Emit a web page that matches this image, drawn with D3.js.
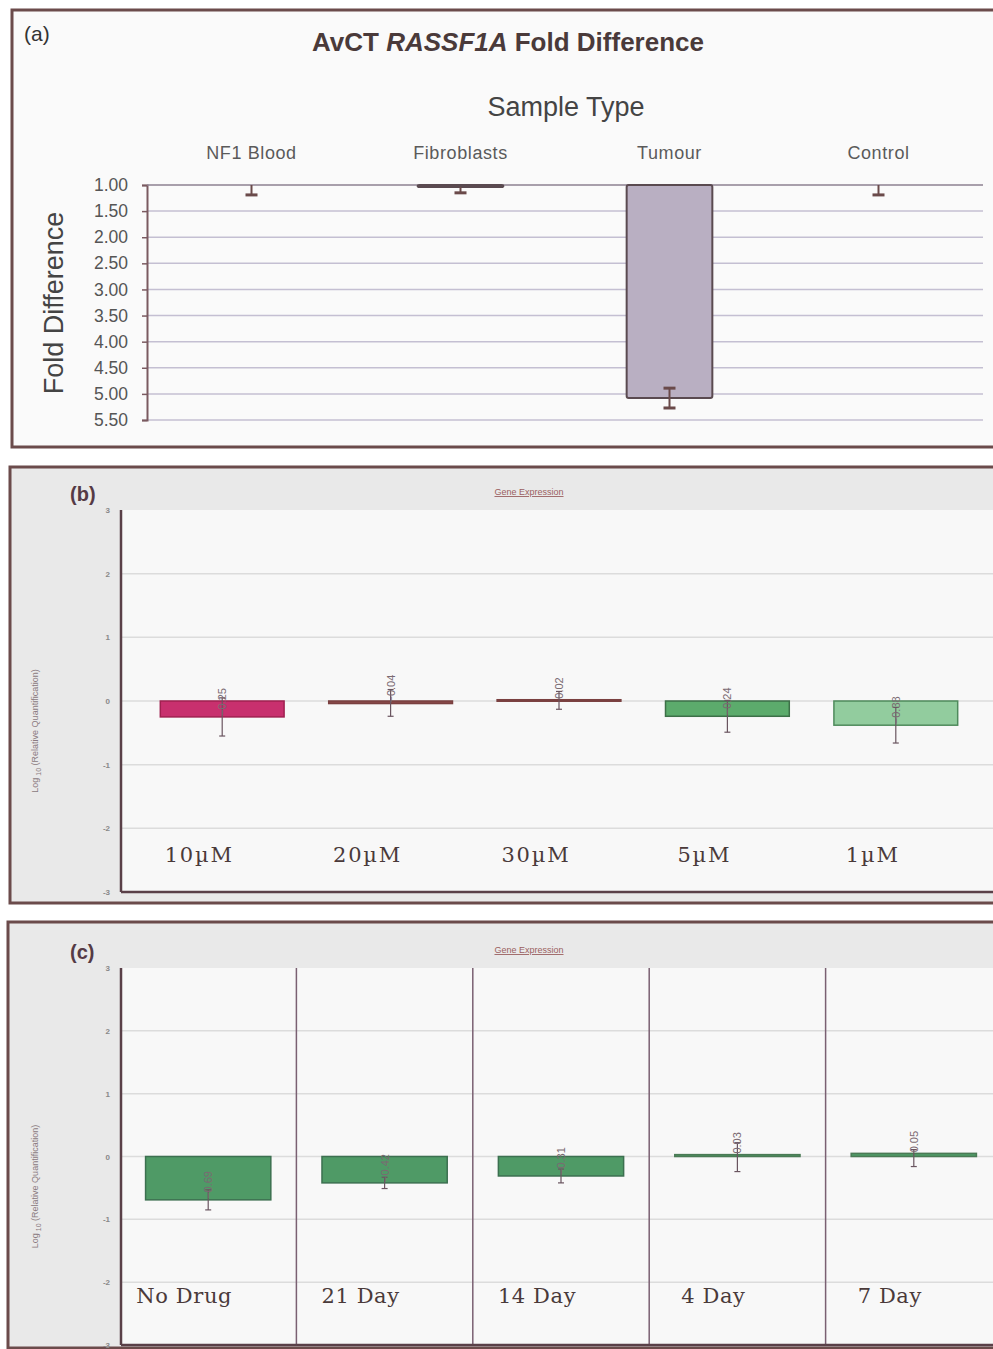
<!DOCTYPE html>
<html>
<head>
<meta charset="utf-8">
<script src="https://cdn.jsdelivr.net/npm/d3@7"></script>
<style>
  body { margin: 0; background: #ffffff; }
</style>
</head>
<body>
<div id="chart"></div>
<script>
// Panel (a) data
const sampleTypes = ["NF1 Blood", "Fibroblasts", "Tumour", "Control"];
const foldValues = [1.0, 1.04, 5.08, 1.0];
const foldErrLow = [1.0, 1.04, 4.89, 1.0];
const foldErrHigh = [1.19, 1.15, 5.27, 1.19];
const foldTicks = [1.0, 1.5, 2.0, 2.5, 3.0, 3.5, 4.0, 4.5, 5.0, 5.5];

// Panel (b) data
const doseLabels = ["10µM", "20µM", "30µM", "5µM", "1µM"];
const doseValues = [-0.25, -0.04, 0.02, -0.24, -0.38];
const doseErrLow = [-0.55, -0.24, -0.13, -0.49, -0.66];
const doseErrHigh = [0.05, 0.18, 0.15, 0.01, -0.1];
const doseColors = ["#c8306e", "#8a4a4a", "#8a4a4a", "#5cab6c", "#92cc9e"];

// Panel (c) data
const timeLabels = ["No Drug", "21 Day", "14 Day", "4 Day", "7 Day"];
const timeValues = [-0.69, -0.42, -0.31, 0.03, 0.05];
const timeErrLow = [-0.85, -0.51, -0.42, -0.24, -0.16];
const timeErrHigh = [-0.53, -0.33, -0.2, 0.22, 0.11];

const logTicks = [3, 2, 1, 0, -1, -2, -3];

document.addEventListener("DOMContentLoaded", function () {
  const width = 993;
  const height = 1349;
  const border = "#6b4b4b";

  const svg = d3
    .select("#chart")
    .append("svg")
    .attr("width", width)
    .attr("height", height)
    .style("font-family", "'Liberation Sans', Arial, sans-serif");

  // ---------- Panel (a) ----------
  const pa = svg.append("g");
  pa.append("rect")
    .attr("x", 12)
    .attr("y", 10)
    .attr("width", 1000)
    .attr("height", 437)
    .attr("fill", "#fafafa")
    .attr("stroke", border)
    .attr("stroke-width", 3);

  pa.append("text").attr("x", 24).attr("y", 41).attr("font-size", 21).attr("fill", "#333").text("(a)");

  const title = pa.append("text")
    .attr("x", 508)
    .attr("y", 51)
    .attr("text-anchor", "middle")
    .attr("font-size", 26)
    .attr("font-weight", "bold")
    .attr("fill", "#4a3a3a");
  title.append("tspan").text("AvCT ");
  title.append("tspan").attr("font-style", "italic").text("RASSF1A");
  title.append("tspan").text(" Fold Difference");

  pa.append("text")
    .attr("x", 566)
    .attr("y", 116)
    .attr("text-anchor", "middle")
    .attr("font-size", 27)
    .attr("fill", "#444")
    .text("Sample Type");

  const xA = d3.scaleBand().domain(sampleTypes).range([147, 983]);
  const yA = d3.scaleLinear().domain([1, 5.5]).range([185, 420]);

  // gridlines
  pa.selectAll(".gridA")
    .data(foldTicks.slice(1))
    .enter()
    .append("line")
    .attr("x1", 147)
    .attr("x2", 983)
    .attr("y1", (d) => yA(d))
    .attr("y2", (d) => yA(d))
    .attr("stroke", "#c4bfd2")
    .attr("stroke-width", 1.5);

  // y axis with reversed scale
  const axisA = pa.append("g")
    .attr("transform", "translate(147,0)")
    .call(d3.axisLeft(yA).tickValues(foldTicks).tickFormat(d3.format(".2f")).tickSize(5).tickPadding(14));
  axisA.select(".domain").attr("stroke", "#7a5a60").attr("stroke-width", 2);
  axisA.selectAll(".tick line").attr("stroke", "#7a5a60").attr("stroke-width", 1.5);
  axisA.selectAll(".tick text").attr("font-size", 17.5).attr("fill", "#555").attr("font-family", "'Liberation Sans', Arial, sans-serif");

  pa.append("line")
    .attr("x1", 147)
    .attr("x2", 983)
    .attr("y1", yA(1))
    .attr("y2", yA(1))
    .attr("stroke", "#8c8090")
    .attr("stroke-width", 1.5);

  pa.append("text")
    .attr("transform", "translate(63,303) rotate(-90)")
    .attr("text-anchor", "middle")
    .attr("font-size", 27)
    .attr("fill", "#444")
    .text("Fold Difference");

  // category labels on top
  pa.selectAll(".catA")
    .data(sampleTypes)
    .enter()
    .append("text")
    .attr("x", (d) => xA(d) + xA.bandwidth() / 2)
    .attr("y", 159)
    .attr("text-anchor", "middle")
    .attr("font-size", 18)
    .attr("letter-spacing", 0.6)
    .attr("fill", "#5a5a5a")
    .text((d) => d);

  // bars
  const barWA = xA.bandwidth() * 0.41;
  pa.selectAll(".barA")
    .data(sampleTypes)
    .enter()
    .append("rect")
    .attr("x", (d) => xA(d) + (xA.bandwidth() - barWA) / 2)
    .attr("y", yA(1))
    .attr("width", barWA)
    .attr("height", (d, i) => yA(foldValues[i]) - yA(1))
    .attr("rx", 2)
    .attr("fill", "#b9afc2")
    .attr("stroke", "#5a4a50")
    .attr("stroke-width", (d, i) => (foldValues[i] > 1 ? 2 : 0));

  // error bars
  sampleTypes.forEach(function (d, i) {
    const cx = xA(d) + xA.bandwidth() / 2;
    const g = pa.append("g").attr("stroke", "#6a4a4a");
    g.append("line").attr("x1", cx).attr("x2", cx).attr("y1", yA(foldErrLow[i])).attr("y2", yA(foldErrHigh[i])).attr("stroke-width", 2);
    g.append("line").attr("x1", cx - 6).attr("x2", cx + 6).attr("y1", yA(foldErrHigh[i])).attr("y2", yA(foldErrHigh[i])).attr("stroke-width", 3);
    if (foldErrLow[i] > 1.05) {
      g.append("line").attr("x1", cx - 6).attr("x2", cx + 6).attr("y1", yA(foldErrLow[i])).attr("y2", yA(foldErrLow[i])).attr("stroke-width", 3);
    }
  });

  // ---------- Panels (b) and (c) ----------
  function drawGenePanel(opts) {
    const g = svg.append("g");
    g.append("rect")
      .attr("x", opts.boxX)
      .attr("y", opts.boxTop)
      .attr("width", 1000)
      .attr("height", opts.boxBottom - opts.boxTop)
      .attr("fill", "#e9e9e9")
      .attr("stroke", border)
      .attr("stroke-width", 3);

    const y = d3.scaleLinear().domain([-3, 3]).range([opts.plotBottom, opts.plotTop]);
    const x = d3.scaleBand().domain(opts.labels).range(opts.xRange);

    g.append("rect")
      .attr("x", 121)
      .attr("y", opts.plotTop)
      .attr("width", 880)
      .attr("height", opts.plotBottom - opts.plotTop)
      .attr("fill", "#f8f8f8");

    g.append("text")
      .attr("x", 70)
      .attr("y", opts.plotTop - 9)
      .attr("font-size", 20)
      .attr("font-weight", "bold")
      .attr("fill", "#553a45")
      .text(opts.tag);

    g.append("text")
      .attr("x", 529)
      .attr("y", opts.plotTop - 15)
      .attr("text-anchor", "middle")
      .attr("font-size", 9)
      .attr("fill", "#9a6060")
      .attr("text-decoration", "underline")
      .text("Gene Expression");

    // gridlines
    g.selectAll(".grid")
      .data(logTicks.slice(1, -1))
      .enter()
      .append("line")
      .attr("x1", 121)
      .attr("x2", 1000)
      .attr("y1", (d) => y(d))
      .attr("y2", (d) => y(d))
      .attr("stroke", "#dcdcdc")
      .attr("stroke-width", 1.5);

    // tick labels
    g.selectAll(".tickLbl")
      .data(logTicks)
      .enter()
      .append("text")
      .attr("x", 110)
      .attr("y", (d) => y(d) + 3)
      .attr("text-anchor", "end")
      .attr("font-size", 8)
      .attr("font-weight", "bold")
      .attr("fill", "#888")
      .text((d) => d);

    // y axis label
    const yl = g.append("text")
      .attr("transform", "translate(38," + (y(0) + 30) + ") rotate(-90)")
      .attr("text-anchor", "middle")
      .attr("font-size", 9)
      .attr("fill", "#8a7a80");
    yl.append("tspan").text("Log");
    yl.append("tspan").attr("font-size", 7).attr("dy", 3).text(" 10");
    yl.append("tspan").attr("dy", -3).text("  (Relative Quantification)");

    // separators
    if (opts.separators) {
      g.selectAll(".sep")
        .data(opts.labels.slice(1))
        .enter()
        .append("line")
        .attr("x1", (d) => x(d))
        .attr("x2", (d) => x(d))
        .attr("y1", opts.plotTop)
        .attr("y2", opts.plotBottom)
        .attr("stroke", "#7a6072")
        .attr("stroke-width", 1.5);
    }

    // bars
    const bw = x.bandwidth() * opts.barFrac;
    g.selectAll(".bar")
      .data(opts.labels)
      .enter()
      .append("rect")
      .attr("x", (d) => x(d) + (x.bandwidth() - bw) / 2)
      .attr("y", (d, i) => Math.min(y(0), y(opts.values[i])))
      .attr("width", bw)
      .attr("height", (d, i) => Math.max(Math.abs(y(opts.values[i]) - y(0)), 1.5))
      .attr("fill", (d, i) => opts.colors[i])
      .attr("stroke", (d, i) => opts.strokes[i])
      .attr("stroke-width", 1.5);

    // error bars
    opts.labels.forEach(function (d, i) {
      const cx = x(d) + x.bandwidth() / 2;
      const e = g.append("g").attr("stroke", "#6a5560").attr("stroke-width", 1.2);
      e.append("line").attr("x1", cx).attr("x2", cx).attr("y1", y(opts.errLow[i])).attr("y2", y(opts.errHigh[i]));
      e.append("line").attr("x1", cx - 3).attr("x2", cx + 3).attr("y1", y(opts.errLow[i])).attr("y2", y(opts.errLow[i]));
      e.append("line").attr("x1", cx - 3).attr("x2", cx + 3).attr("y1", y(opts.errHigh[i])).attr("y2", y(opts.errHigh[i]));
    });

    // value labels
    g.selectAll(".val")
      .data(opts.labels)
      .enter()
      .append("text")
      .attr("transform", (d, i) => "translate(" + (x(d) + x.bandwidth() / 2 + 4) + "," + (y(opts.values[i]) - 1) + ") rotate(-90)")
      .attr("font-size", 11)
      .attr("fill", "#7a6a72")
      .text((d, i) => d3.format(".2f")(opts.values[i]));

    // category labels inside plot
    g.selectAll(".cat")
      .data(opts.labels)
      .enter()
      .append("text")
      .attr("x", (d) => x(d) + x.bandwidth() / 2 - opts.labelShift)
      .attr("y", y(opts.labelAt) + 8)
      .attr("text-anchor", "middle")
      .attr("font-family", "'DejaVu Serif', serif")
      .attr("font-size", 21)
      .attr("letter-spacing", opts.labelSpacing)
      .attr("fill", "#4a3a3a")
      .text((d) => d);

    // axes
    g.append("line")
      .attr("x1", 121)
      .attr("x2", 121)
      .attr("y1", opts.plotTop)
      .attr("y2", opts.plotBottom)
      .attr("stroke", "#5a4048")
      .attr("stroke-width", 2.5);
    g.append("line")
      .attr("x1", 121)
      .attr("x2", 1000)
      .attr("y1", opts.plotBottom)
      .attr("y2", opts.plotBottom)
      .attr("stroke", "#5a4048")
      .attr("stroke-width", 2.5);
  }

  drawGenePanel({
    tag: "(b)",
    boxX: 10,
    boxTop: 467,
    boxBottom: 903,
    plotTop: 510,
    plotBottom: 892,
    xRange: [138, 980],
    labels: doseLabels,
    values: doseValues,
    errLow: doseErrLow,
    errHigh: doseErrHigh,
    colors: doseColors,
    strokes: ["#a02050", "#7a4040", "#7a4040", "#3d7048", "#4f8a5c"],
    barFrac: 0.735,
    labelShift: 23,
    labelAt: -2.4,
    labelSpacing: 1.8,
    separators: false
  });

  drawGenePanel({
    tag: "(c)",
    boxX: 8,
    boxTop: 922,
    boxBottom: 1348,
    plotTop: 968,
    plotBottom: 1345,
    xRange: [120, 1002],
    labels: timeLabels,
    values: timeValues,
    errLow: timeErrLow,
    errHigh: timeErrHigh,
    colors: ["#4f9a66", "#4f9a66", "#4f9a66", "#4f9a66", "#4f9a66"],
    strokes: ["#3c7050", "#3c7050", "#3c7050", "#4a7a55", "#4a7a55"],
    barFrac: 0.71,
    labelShift: 24,
    labelAt: -2.2,
    labelSpacing: 0.6,
    separators: true
  });
});
</script>
</body>
</html>
